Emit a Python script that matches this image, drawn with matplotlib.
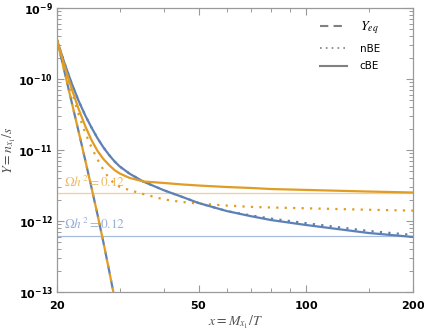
import matplotlib
matplotlib.use('Agg')
import matplotlib.pyplot as plt
from matplotlib.lines import Line2D
from matplotlib.ticker import FixedLocator, FixedFormatter, NullFormatter

# values (x = M/T, Y = n/s)
x = [20, 21, 22, 23, 24, 25, 26, 27, 28, 29, 30, 32, 35, 40, 45, 50, 60, 70, 80, 100, 150, 200]

blue_cbe = [3.54e-10, 1.66e-10, 8.65e-11, 4.93e-11, 3.08e-11, 2.07e-11, 1.46e-11, 1.09e-11,
            8.53e-12, 6.93e-12, 5.87e-12, 4.63e-12, 3.58e-12, 2.70e-12, 2.18e-12, 1.79e-12,
            1.38e-12, 1.17e-12, 1.03e-12, 8.79e-13, 6.78e-13, 5.96e-13]
blue_nbe = [3.54e-10, 1.66e-10, 8.65e-11, 4.93e-11, 3.08e-11, 2.07e-11, 1.46e-11, 1.09e-11,
            8.53e-12, 6.93e-12, 5.87e-12, 4.63e-12, 3.58e-12, 2.70e-12, 2.18e-12, 1.79e-12,
            1.38e-12, 1.20e-12, 1.08e-12, 9.33e-13, 7.24e-13, 6.35e-13]
orange_cbe = [3.54e-10, 1.52e-10, 7.23e-11, 3.78e-11, 2.18e-11, 1.38e-11, 9.68e-12, 7.47e-12,
              6.15e-12, 5.23e-12, 4.67e-12, 4.04e-12, 3.60e-12, 3.43e-12, 3.27e-12, 3.16e-12,
              3.01e-12, 2.92e-12, 2.82e-12, 2.74e-12, 2.60e-12, 2.52e-12]
orange_nbe = [3.54e-10, 1.51e-10, 6.67e-11, 3.18e-11, 1.75e-11, 1.09e-11, 7.35e-12, 5.25e-12,
              3.99e-12, 3.36e-12, 3.03e-12, 2.72e-12, 2.39e-12, 2.01e-12, 1.85e-12, 1.76e-12,
              1.65e-12, 1.58e-12, 1.55e-12, 1.51e-12, 1.44e-12, 1.40e-12]

x_eq = [20, 21, 22, 23, 24, 25, 26, 27, 28, 29, 30]
y_eq = [3.54e-10, 1.26e-10, 4.68e-11, 1.82e-11, 7.24e-12, 2.95e-12, 1.22e-12, 5.01e-13,
        2.04e-13, 8.32e-14, 3.55e-14]

omega_orange = 2.45e-12
omega_blue = 6.15e-13

xticks = [20, 50, 100, 200]
xminor = [30, 40, 60, 70, 80, 90, 150]
yticks = [1e-13, 1e-12, 1e-11, 1e-10, 1e-9]
ytick_labels = [r'$\mathbf{10^{-13}}$', r'$\mathbf{10^{-12}}$', r'$\mathbf{10^{-11}}$',
                r'$\mathbf{10^{-10}}$', r'$\mathbf{10^{-9}}$']

blue = '#5E81B5'
orange = '#E19C24'

fig = plt.figure(figsize=(4.24, 3.35), dpi=100)
ax = fig.add_axes([57/424, 1-292/335, 356/424, 284/335])

ax.set_xscale('log')
ax.set_yscale('log')

# Omega h^2 = 0.12 lines
ax.axhline(omega_orange, color='#F2CF8F', lw=0.9, zorder=1)
ax.axhline(omega_blue, color='#A7BCDC', lw=0.9, zorder=1)
ax.text(20.9, omega_orange*1.12, r'$\Omega h^2 = 0.12$', color='#EDBB66', fontsize=9.5,
        math_fontfamily='stix', va='bottom', ha='left')
ax.text(20.9, omega_blue*1.12, r'$\Omega h^2 = 0.12$', color='#98AFD6', fontsize=9.5,
        math_fontfamily='stix', va='bottom', ha='left')

lw = 1.6
ax.plot(x_eq, y_eq, color=blue, lw=lw, ls=(0, (4, 2.5)), zorder=2)
ax.plot(x_eq, y_eq, color=orange, lw=lw, ls=(3, (4, 2.5)), zorder=3)
ax.plot(x, blue_nbe, color=blue, lw=lw, ls=(0, (1, 2.8)), zorder=2)
ax.plot(x, orange_nbe, color=orange, lw=lw, ls=(0, (1, 2.8)), zorder=3)
ax.plot(x, blue_cbe, color=blue, lw=lw, zorder=4)
ax.plot(x, orange_cbe, color=orange, lw=lw, zorder=5)

ax.set_xlim(20, 200)
ax.set_ylim(1e-13, 1e-9)

ax.xaxis.set_major_locator(FixedLocator(xticks))
ax.xaxis.set_major_formatter(FixedFormatter([r'$\mathbf{%d}$' % t for t in xticks]))
ax.xaxis.set_minor_locator(FixedLocator(xminor))
ax.xaxis.set_minor_formatter(NullFormatter())
ax.yaxis.set_major_locator(FixedLocator(yticks))
ax.yaxis.set_major_formatter(FixedFormatter(ytick_labels))
ax.yaxis.set_minor_locator(FixedLocator([m*10.0**e for e in range(-13, -9) for m in range(2, 10)]))
ax.yaxis.set_minor_formatter(NullFormatter())

frame = '#999999'
for s in ax.spines.values():
    s.set_color(frame)
    s.set_linewidth(0.9)
ax.tick_params(which='both', direction='in', top=True, right=True, color=frame, labelsize=8)
ax.tick_params(which='major', length=5, width=0.8)
ax.tick_params(which='minor', length=3, width=0.7)
ax.tick_params(axis='x', pad=5)
ax.tick_params(axis='y', pad=3)

ax.set_xlabel(r'$x = M_{x_1}/T$', fontsize=10, color='#555555', math_fontfamily='stix')
ax.set_ylabel(r'$Y = n_{x_1}/s$', fontsize=10, color='#555555', math_fontfamily='stix')
ax.xaxis.set_label_coords(0.5, -(322-292)/284)
ax.yaxis.set_label_coords(-(9-57)/-356, 0.5)
ax.xaxis.label.set_va('center')
ax.yaxis.label.set_va('center')

gray = '#808080'
handles = [Line2D([], [], color=gray, lw=1.5, ls=(0, (4, 2.5))),
           Line2D([], [], color=gray, lw=1.2, ls=(0, (1, 2.5))),
           Line2D([], [], color=gray, lw=1.5)]
leg = ax.legend(handles, [r'$Y_{eq}$', 'nBE', 'cBE'], loc='upper left',
                bbox_to_anchor=((320-57)/356, 1-(19-8)/284), frameon=False, fontsize=7.5,
                handlelength=2.6, handletextpad=1.2, labelspacing=0.75, borderpad=0,
                borderaxespad=0)
leg.get_texts()[0].set_math_fontfamily('stix')
leg.get_texts()[0].set_fontsize(10)

fig.savefig('out.png', dpi=100)
